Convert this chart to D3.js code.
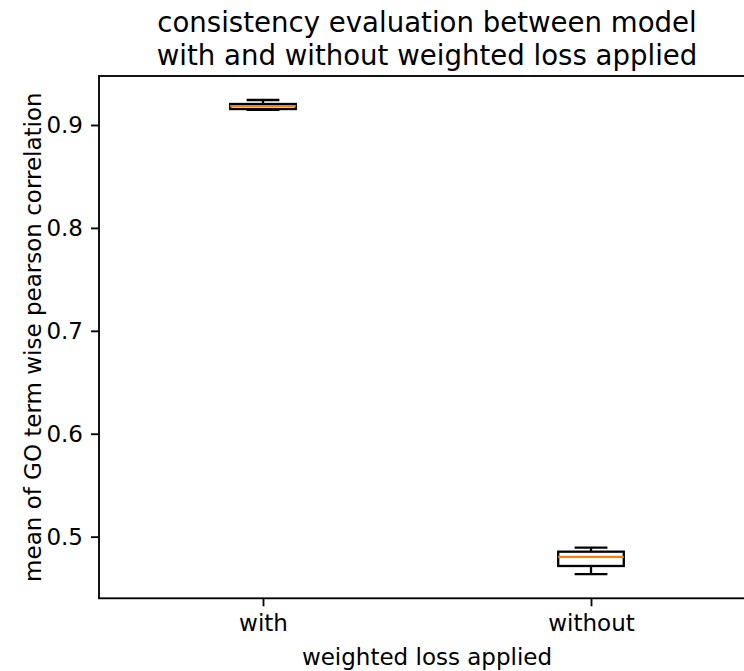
<!DOCTYPE html>
<html>
<head>
<meta charset="utf-8">
<script src="https://cdn.jsdelivr.net/npm/d3@7"></script>
<style>
  html, body { margin: 0; padding: 0; background: #fff; }
  svg { display: block; font-family: "DejaVu Sans", sans-serif; }
</style>
</head>
<body>
<div id="chart"></div>
<script>
// Box plot summary per group: whiskers, quartiles, median
const categories = ["with", "without"];
const whiskerLow  = [0.9146, 0.4635];
const q1          = [0.9155, 0.4715];
const median      = [0.9183, 0.4803];
const q3          = [0.9204, 0.4854];
const whiskerHigh = [0.9243, 0.4893];
const yTicks = [0.5, 0.6, 0.7, 0.8, 0.9];

const W = 744, H = 671;
const plotLeft = 99, plotRight = 755, plotTop = 76, plotBottom = 598.3;

const svg = d3.select("#chart").append("svg")
  .attr("width", W).attr("height", H);

// positions 1..n along x, matplotlib-style
const x = d3.scaleLinear().domain([0.5, categories.length + 0.5]).range([plotLeft, plotRight]);
const y = d3.scaleLinear().domain([0.4401, 0.9476]).range([plotBottom, plotTop]);

const boxW = 0.2;
const capW = boxW / 2;
const lw = 2.3;

const data = categories.map((c, i) => ({
  name: c, pos: i + 1,
  lo: whiskerLow[i], q1: q1[i], med: median[i], q3: q3[i], hi: whiskerHigh[i]
}));

const g = svg.append("g");

data.forEach(d => {
  const bx = g.append("g");
  // whiskers
  bx.append("line")
    .attr("x1", x(d.pos)).attr("x2", x(d.pos))
    .attr("y1", y(d.q3)).attr("y2", y(d.hi))
    .attr("stroke", "#000").attr("stroke-width", lw);
  bx.append("line")
    .attr("x1", x(d.pos)).attr("x2", x(d.pos))
    .attr("y1", y(d.q1)).attr("y2", y(d.lo))
    .attr("stroke", "#000").attr("stroke-width", lw);
  // caps
  [d.hi, d.lo].forEach(v => {
    bx.append("line")
      .attr("x1", x(d.pos - capW / 2)).attr("x2", x(d.pos + capW / 2))
      .attr("y1", y(v)).attr("y2", y(v))
      .attr("stroke", "#000").attr("stroke-width", lw);
  });
  // box
  bx.append("rect")
    .attr("x", x(d.pos - boxW / 2))
    .attr("width", x(d.pos + boxW / 2) - x(d.pos - boxW / 2))
    .attr("y", y(d.q3))
    .attr("height", y(d.q1) - y(d.q3))
    .attr("fill", "none").attr("stroke", "#000").attr("stroke-width", lw);
  // median
  bx.append("line")
    .attr("x1", x(d.pos - boxW / 2)).attr("x2", x(d.pos + boxW / 2))
    .attr("y1", y(d.med)).attr("y2", y(d.med))
    .attr("stroke", "#ff7f0e").attr("stroke-width", lw);
});

// axes
const fs = 23;
const yAxis = svg.append("g").attr("transform", `translate(${plotLeft},0)`)
  .call(d3.axisLeft(y).tickValues(yTicks).tickFormat(d3.format(".1f"))
    .tickSize(8).tickPadding(8).tickSizeOuter(0));
const xAxis = svg.append("g").attr("transform", `translate(0,${plotBottom})`)
  .call(d3.axisBottom(x).tickValues(data.map(d => d.pos))
    .tickFormat((v, i) => categories[i]).tickSize(8).tickPadding(8).tickSizeOuter(0));

[yAxis, xAxis].forEach(a => {
  a.select(".domain").remove();
  a.selectAll(".tick line").attr("stroke", "#000").attr("stroke-width", 1.85);
  a.selectAll(".tick text").attr("fill", "#000")
    .style("font-family", "'DejaVu Sans', sans-serif").style("font-size", fs + "px");
});

// spines
svg.append("rect")
  .attr("x", plotLeft).attr("y", plotTop)
  .attr("width", plotRight - plotLeft).attr("height", plotBottom - plotTop)
  .attr("fill", "none").attr("stroke", "#000").attr("stroke-width", 1.85);

// axis labels
svg.append("text")
  .attr("x", (plotLeft + plotRight) / 2).attr("y", 665)
  .attr("text-anchor", "middle").style("font-size", fs + "px")
  .text("weighted loss applied");

svg.append("text")
  .attr("transform", `translate(41,${(plotTop + plotBottom) / 2}) rotate(-90)`)
  .attr("text-anchor", "middle").style("font-size", fs + "px")
  .text("mean of GO term wise pearson correlation");

// title
const title = svg.append("text")
  .attr("text-anchor", "middle").style("font-size", "27.6px");
title.append("tspan").attr("x", (plotLeft + plotRight) / 2).attr("y", 32)
  .text("consistency evaluation between model");
title.append("tspan").attr("x", (plotLeft + plotRight) / 2).attr("y", 65)
  .text("with and without weighted loss applied");
</script>
</body>
</html>
